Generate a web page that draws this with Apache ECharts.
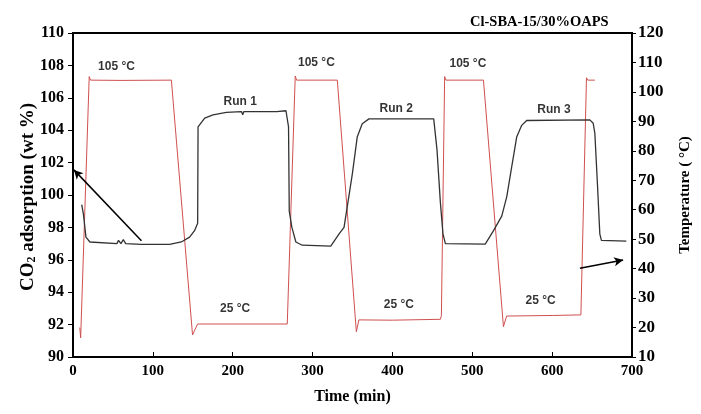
<!DOCTYPE html>
<html>
<head>
<meta charset="utf-8">
<script src="https://cdn.jsdelivr.net/npm/echarts@6/dist/echarts.min.js"></script>
<style>html,body{margin:0;padding:0;background:#fff;}#chart{width:701px;height:414px;}</style>
</head>
<body>
<div id="chart"></div>
<script>
// Temperature (right axis, °C)
var tempTime  = [8.5, 9.6, 20.3, 22, 60, 123.2, 149.7, 156, 268.3, 278.3, 280, 331, 354.8, 358, 400, 460, 461.3, 465.4, 467, 514, 539, 543, 600, 636, 643, 644.5, 653.5];
var tempValue = [20, 16.5, 105.2, 104, 103.9, 104, 17.5, 21.2, 21.2, 105.4, 104, 104, 18.6, 22.6, 22.5, 22.8, 24, 105.2, 104, 104, 20.3, 23.9, 24.1, 24.3, 104.8, 104, 104];

// CO2 adsorption (left axis, wt %)
var co2Time  = [10.9, 13.1, 16.2, 21.2, 55, 57, 60, 63, 66, 85.7, 121, 135.6, 146, 152.2, 156.1, 156.6, 164.9, 175.3, 192, 211, 212.5, 214, 255, 266.7, 269.9, 270.8, 274.1, 279.1, 287, 322.8, 333.2, 339.4, 343.5, 349.8, 356, 362.2, 370.6, 451.7, 455.8, 460.1, 463.3, 466.3, 516.2, 526.6, 536.9, 543.2, 549.4, 555.7, 561.9, 568.1, 647.2, 651.4, 653.5, 656.7, 659.7, 661.7, 692.9];
var co2Value = [99.4, 98.8, 97.4, 97.1, 97.0, 97.2, 97.0, 97.25, 97.0, 96.95, 96.95, 97.1, 97.4, 97.8, 98.25, 104.2, 104.74, 104.95, 105.1, 105.15, 104.95, 105.15, 105.15, 105.2, 104.2, 99.0, 98.0, 97.1, 96.9, 96.85, 97.6, 98.0, 99.3, 101.3, 103.6, 104.4, 104.7, 104.7, 102.8, 99.5, 97.6, 97.0, 96.97, 97.8, 98.7, 99.9, 101.75, 103.6, 104.3, 104.6, 104.64, 104.43, 103.8, 100.7, 97.6, 97.2, 97.15];

// In-plot annotations (left-axis data coordinates)
var noteText = ['105 °C', '105 °C', '105 °C', 'Run 1', 'Run 2', 'Run 3', '25 °C', '25 °C', '25 °C'];
var noteTime = [54.5, 304.8, 494.5, 209.3, 404.7, 602.3, 203, 408, 585.6];
var noteCO2  = [107.93, 108.18, 108.1, 105.77, 105.32, 105.26, 93.0, 93.26, 93.5];

// Arrows
var arrowLeft  = [[85.7, 97.17], [1.2, 101.55]];   // on CO2 axis
var arrowRight = [[634.8, 40.1], [688.9, 42.9]];   // on temperature axis

var xTicks = {min: 0, max: 700, interval: 100};
var yLeftTicks = {min: 90, max: 110, interval: 2};
var yRightTicks = {min: 10, max: 120, interval: 10};

function zip(a, b) { return a.map(function (v, i) { return [v, b[i]]; }); }

var serif = 'Liberation Serif';
var sans = 'Liberation Sans';
function tickFont(size) { return {color: '#000', fontFamily: serif, fontWeight: 'bold', fontSize: size}; }

var chart = echarts.init(document.getElementById('chart'), null, {renderer: 'canvas'});
chart.setOption({
  animation: false,
  backgroundColor: '#fff',
  title: {
    text: 'Cl-SBA-15/30%OAPS',
    left: 465, top: 10,
    textStyle: {fontFamily: serif, fontWeight: 'bold', fontSize: 14.5, color: '#000'}
  },
  grid: {left: 73, right: 68, top: 33, bottom: 57, show: true, borderColor: '#000', borderWidth: 2, containLabel: false},
  xAxis: {
    type: 'value', min: xTicks.min, max: xTicks.max, interval: xTicks.interval,
    name: 'Time (min)', nameLocation: 'middle', nameGap: 32,
    nameTextStyle: {fontFamily: serif, fontWeight: 'bold', fontSize: 16, color: '#000'},
    axisLine: {lineStyle: {color: '#000', width: 2}},
    axisTick: {inside: true, length: 5, lineStyle: {color: '#000', width: 1}},
    axisLabel: Object.assign({margin: 7}, tickFont(15)),
    splitLine: {show: false}
  },
  yAxis: [{
    type: 'value', position: 'left', min: yLeftTicks.min, max: yLeftTicks.max, interval: yLeftTicks.interval,
    axisLine: {show: true, lineStyle: {color: '#000', width: 2}},
    axisTick: {show: true, length: 5, lineStyle: {color: '#000', width: 1}},
    axisLabel: Object.assign({margin: 9}, tickFont(16)),
    splitLine: {show: false}
  }, {
    type: 'value', position: 'right', min: yRightTicks.min, max: yRightTicks.max, interval: yRightTicks.interval,
    name: 'Temperature ( °C)', nameLocation: 'middle', nameRotate: 90, nameGap: 46,
    nameTextStyle: {fontFamily: serif, fontWeight: 'bold', fontSize: 15, color: '#000'},
    axisLine: {show: true, lineStyle: {color: '#000', width: 2}},
    axisTick: {show: true, length: 4, lineStyle: {color: '#000', width: 1}},
    axisLabel: Object.assign({margin: 6}, tickFont(17)),
    splitLine: {show: false}
  }],
  graphic: [{
    type: 'text', x: 28, y: 197, rotation: Math.PI / 2,
    style: {
      text: 'CO{sub|2} adsorption (wt %)',
      align: 'center', verticalAlign: 'middle',
      fontFamily: serif, fontWeight: 'bold', fontSize: 19, fill: '#000',
      rich: {sub: {fontFamily: serif, fontWeight: 'bold', fontSize: 12, lineHeight: 11, verticalAlign: 'bottom'}}
    }
  }],
  series: [{
    name: 'Temperature', type: 'line', yAxisIndex: 1, showSymbol: false, symbol: 'none',
    data: zip(tempTime, tempValue),
    lineStyle: {color: '#cf5050', width: 1},
    markLine: {
      silent: true, symbol: ['none', 'arrow'], symbolSize: [7, 9],
      label: {show: false},
      lineStyle: {color: '#000', width: 1.5, type: 'solid'},
      data: [[{coord: arrowRight[0]}, {coord: arrowRight[1]}]]
    }
  }, {
    name: 'CO2', type: 'line', yAxisIndex: 0, showSymbol: false, symbol: 'none',
    data: zip(co2Time, co2Value),
    lineStyle: {color: '#333', width: 1.3},
    markLine: {
      silent: true, symbol: ['none', 'arrow'], symbolSize: [7, 9],
      label: {show: false},
      lineStyle: {color: '#000', width: 1.5, type: 'solid'},
      data: [[{coord: arrowLeft[0]}, {coord: arrowLeft[1]}]]
    }
  }, {
    name: 'notes', type: 'scatter', yAxisIndex: 0, symbolSize: 0, silent: true,
    data: noteTime.map(function (t, i) { return {value: [t, noteCO2[i]], name: noteText[i]}; }),
    label: {show: true, position: 'inside', formatter: '{b}', color: '#000', fontFamily: sans, fontWeight: 'bold', fontSize: 12}
  }]
});
</script>
</body>
</html>
